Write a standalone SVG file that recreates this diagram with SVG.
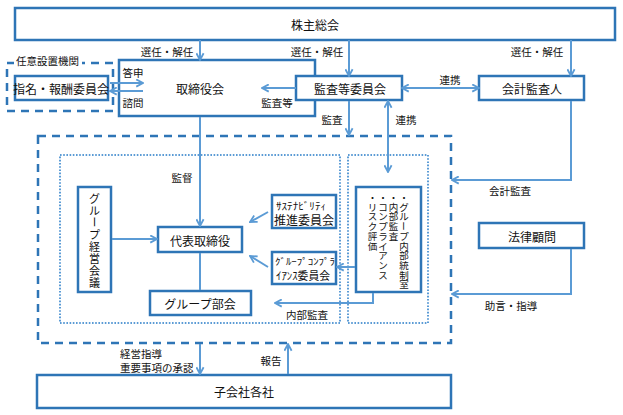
<svg xmlns="http://www.w3.org/2000/svg" width="623" height="415" viewBox="0 0 623 415">
<style>
.box{fill:#fff;stroke:#2e75b6;stroke-width:2.5}
.dash{fill:none;stroke:#2e75b6;stroke-width:2.5;stroke-dasharray:8 6}
.dot{fill:none;stroke:#5b9bd5;stroke-width:2;stroke-dasharray:1.6 1.6}
.ln{fill:none;stroke:#5b9bd5;stroke-width:2}
.arr{fill:none;stroke:#5b9bd5;stroke-width:2;marker-end:url(#ah)}
.arr2{fill:none;stroke:#5b9bd5;stroke-width:2;marker-end:url(#ah);marker-start:url(#ah)}
text{font-family:"Noto Sans CJK JP","Noto Sans",sans-serif;fill:#111;dominant-baseline:central}
.t{font-size:12px;text-anchor:middle}
.s{font-size:10.5px;text-anchor:middle}
.v{font-size:11px;text-anchor:middle}
.v2{font-size:9.5px;text-anchor:middle}
</style>
<defs>
<marker id="ah" viewBox="0 0 10 10" refX="9" refY="5" markerWidth="9" markerHeight="9" markerUnits="userSpaceOnUse" orient="auto-start-reverse">
<path d="M1.5,1 L9,5 L1.5,9" fill="none" stroke="#5b9bd5" stroke-width="2"/>
</marker>
</defs>

<g id="frames">
<rect class="dash" x="38" y="136" width="413" height="207"/>
<rect class="dot" x="60" y="155" width="280" height="168"/>
<rect class="dot" x="348" y="155" width="80" height="168"/>
<rect class="dash" x="7" y="63" width="106" height="48"/>
<rect x="14" y="53" width="68" height="14" fill="#fff"/>
<text x="16" y="60" style="font-size:10.5px">任意設置機関</text>
</g>

<g id="n-shareholders">
<rect class="box" x="15" y="8" width="600" height="32"/>
<text class="t" x="315" y="24">株主総会</text>
</g>
<g id="n-nomination">
<rect class="box" x="15" y="76" width="93" height="24"/>
<text class="t" x="61" y="88">指名・報酬委員会</text>
</g>
<g id="n-board">
<rect class="box" x="119" y="60" width="196" height="56"/>
<text class="t" x="200" y="88">取締役会</text>
</g>
<g id="n-audit-committee">
<rect class="box" x="296" y="76" width="106" height="24"/>
<text class="t" x="350" y="88">監査等委員会</text>
</g>
<g id="n-auditor">
<rect class="box" x="479" y="76" width="105" height="24"/>
<text class="t" x="532" y="88">会計監査人</text>
</g>
<g id="n-management">
<rect class="box" x="78" y="187" width="33" height="105"/>
<text class="v" x="94.5 94.5 94.5 94.5 94.5 94.5 94.5" y="198 210 234 246 258 270 282">グルプ経営会議</text>
<text class="v" x="94.5" y="222" transform="rotate(90 94.5 222)">ー</text>
</g>
<g id="n-ceo">
<rect class="box" x="158" y="227" width="84" height="25"/>
<text class="t" x="200" y="240">代表取締役</text>
</g>
<g id="n-group-dept">
<rect class="box" x="150" y="291" width="101" height="24"/>
<text class="t" x="200" y="303">グループ部会</text>
</g>
<g id="n-sustainability">
<rect class="box" x="272" y="195" width="64" height="33"/>
<text x="276" y="205" style="font-size:10px" textLength="50" lengthAdjust="spacingAndGlyphs">ｻｽﾃﾅﾋﾞﾘﾃｨ</text>
<text class="t" x="304" y="219.5">推進委員会</text>
</g>
<g id="n-compliance">
<rect class="box" x="272" y="252" width="64" height="32"/>
<text x="275" y="260.5" style="font-size:9.5px" textLength="60" lengthAdjust="spacingAndGlyphs">ｸﾞﾙｰﾌﾟｺﾝﾌﾟﾗ</text>
<text x="276" y="274.5" style="font-size:11px" textLength="54" lengthAdjust="spacingAndGlyphs">ｲｱﾝｽ委員会</text>
</g>
<g id="n-internal-control">
<rect class="box" x="356" y="187" width="65" height="105"/>
<text class="v2" x="404 404 404 404 404 404 404 404 404" y="197 206.7 216.4 235.8 245.5 255.2 264.9 274.6 284.3">・グルプ内部統制室</text>
<text class="v2" x="404" y="226.1" transform="rotate(90 404 226.1)">ー</text>
<text class="v2" x="393.5 393.5 393.5 393.5 393.5" y="197 206.7 216.4 226.1 235.8">・内部監査</text>
<text class="v2" x="383 383 383 383 383 383 383 383 383" y="197 206.7 216.4 226.1 235.8 245.5 255.2 264.9 274.6">・コンプライアンス</text>
<text class="v2" x="372.5 372.5 372.5 372.5 372.5 372.5" y="197 206.7 216.4 226.1 235.8 245.5">・リスク評価</text>
</g>
<g id="n-legal">
<rect class="box" x="479" y="223" width="105" height="25"/>
<text class="t" x="532" y="236">法律顧問</text>
</g>
<g id="n-subsidiaries">
<rect class="box" x="37" y="375" width="414" height="33"/>
<text class="t" x="244" y="391">子会社各社</text>
</g>

<g id="connectors">
<line class="arr" x1="200" y1="40" x2="200" y2="60"/>
<line class="arr" x1="349" y1="40" x2="349" y2="76"/>
<line class="arr" x1="571" y1="40" x2="571" y2="76"/>
<line class="arr" x1="110" y1="83" x2="143" y2="83"/>
<line class="arr" x1="143" y1="91" x2="110" y2="91"/>
<line class="arr" x1="296" y1="88" x2="262" y2="88"/>
<line class="arr2" x1="402" y1="88" x2="479" y2="88"/>
<line class="arr" x1="349" y1="101" x2="349" y2="135"/>
<line class="arr2" x1="388" y1="101" x2="388" y2="172"/>
<line class="arr" x1="200" y1="117" x2="200" y2="226"/>
<line class="arr" x1="112" y1="239" x2="157" y2="239"/>
<line class="arr" x1="268" y1="212" x2="250" y2="222"/>
<line class="arr" x1="268" y1="267" x2="250" y2="256"/>
<line class="arr" x1="355" y1="267" x2="337" y2="267"/>
<polyline class="arr" points="373,293 373,303 275,303"/>
<line class="ln" x1="200" y1="253" x2="200" y2="290"/>
<polyline class="arr" points="571,101 571,180 452,180"/>
<polyline class="arr" points="571,249 571,294 452,294"/>
<line class="arr" x1="200" y1="344" x2="200" y2="374"/>
<line class="arr" x1="288" y1="374" x2="288" y2="344"/>
</g>

<g id="labels">
<text class="s" x="167" y="51">選任・解任</text>
<text class="s" x="317" y="51">選任・解任</text>
<text class="s" x="537" y="51">選任・解任</text>
<text class="s" x="133" y="72">答申</text>
<text class="s" x="133" y="102">諮問</text>
<text class="s" x="277" y="102">監査等</text>
<text class="s" x="450" y="79">連携</text>
<text class="s" x="332" y="119">監査</text>
<text class="s" x="406" y="119">連携</text>
<text class="s" x="182" y="177">監督</text>
<text class="s" x="510" y="190">会計監査</text>
<text class="s" x="511" y="305">助言・指導</text>
<text class="s" x="307" y="314">内部監査</text>
<text x="120" y="353" style="font-size:10.5px">経営指導</text>
<text x="120" y="367" style="font-size:10.5px">重要事項の承認</text>
<text class="s" x="271" y="360">報告</text>
</g>
</svg>
